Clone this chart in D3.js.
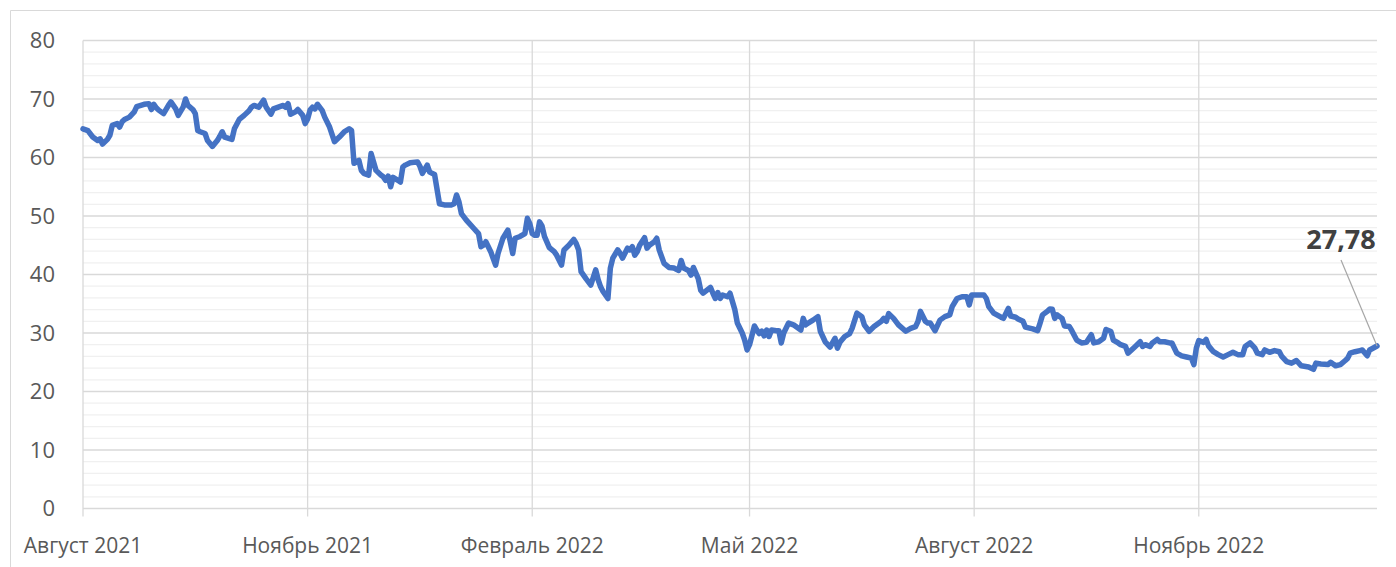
<!DOCTYPE html>
<html>
<head>
<meta charset="utf-8">
<script src="https://cdn.jsdelivr.net/npm/d3@7"></script>
<style>
  body { margin: 0; background: #fff; }
  #chart text { font-family: "Segoe UI", "Open Sans", sans-serif; }
</style>
</head>
<body>
<div id="chart"></div>
<script>
// daily quotes
var dates = [
  "2021-08-01","2021-08-03","2021-08-05","2021-08-07","2021-08-08","2021-08-09","2021-08-11","2021-08-12","2021-08-13","2021-08-15",
  "2021-08-16","2021-08-17","2021-08-18","2021-08-20","2021-08-22","2021-08-23","2021-08-26","2021-08-28","2021-08-29","2021-08-30",
  "2021-08-31","2021-09-01","2021-09-03","2021-09-05","2021-09-06","2021-09-08","2021-09-09","2021-09-11","2021-09-12","2021-09-13",
  "2021-09-15","2021-09-16","2021-09-17","2021-09-18","2021-09-20","2021-09-21","2021-09-23","2021-09-25","2021-09-26","2021-09-27",
  "2021-09-28","2021-10-01","2021-10-02","2021-10-04","2021-10-06","2021-10-08","2021-10-09","2021-10-10","2021-10-12","2021-10-14",
  "2021-10-15","2021-10-17","2021-10-18","2021-10-20","2021-10-22","2021-10-23","2021-10-24","2021-10-25","2021-10-27","2021-10-28",
  "2021-10-30","2021-10-31","2021-11-01","2021-11-02","2021-11-03","2021-11-04","2021-11-05","2021-11-07","2021-11-08","2021-11-10",
  "2021-11-12","2021-11-14","2021-11-16","2021-11-18","2021-11-19","2021-11-20","2021-11-22","2021-11-23","2021-11-24","2021-11-26",
  "2021-11-27","2021-11-29","2021-12-01","2021-12-02","2021-12-03","2021-12-04","2021-12-05","2021-12-06","2021-12-08","2021-12-09",
  "2021-12-10","2021-12-11","2021-12-13","2021-12-16","2021-12-17","2021-12-18","2021-12-20","2021-12-21","2021-12-23","2021-12-25",
  "2021-12-27","2021-12-30","2021-12-31","2022-01-01","2022-01-02","2022-01-03","2022-01-05","2022-01-08","2022-01-10","2022-01-11",
  "2022-01-12","2022-01-13","2022-01-15","2022-01-17","2022-01-18","2022-01-20","2022-01-22","2022-01-23","2022-01-24","2022-01-25",
  "2022-01-27","2022-01-29","2022-01-30","2022-01-31","2022-02-01","2022-02-02","2022-02-03","2022-02-04","2022-02-05","2022-02-06",
  "2022-02-08","2022-02-10","2022-02-11","2022-02-13","2022-02-14","2022-02-16","2022-02-18","2022-02-19","2022-02-20","2022-02-21",
  "2022-02-23","2022-02-25","2022-02-27","2022-02-28","2022-03-01","2022-03-02","2022-03-04","2022-03-05","2022-03-06","2022-03-08",
  "2022-03-09","2022-03-10","2022-03-12","2022-03-13","2022-03-14","2022-03-15","2022-03-16","2022-03-17","2022-03-19","2022-03-20",
  "2022-03-21","2022-03-23","2022-03-24","2022-03-25","2022-03-27","2022-03-29","2022-03-31","2022-04-02","2022-04-03","2022-04-04",
  "2022-04-06","2022-04-07","2022-04-08","2022-04-10","2022-04-11","2022-04-12","2022-04-15","2022-04-16","2022-04-17","2022-04-18",
  "2022-04-19","2022-04-20","2022-04-22","2022-04-23","2022-04-25","2022-04-26","2022-04-28","2022-04-29","2022-04-30","2022-05-01",
  "2022-05-03","2022-05-04","2022-05-05","2022-05-06","2022-05-07","2022-05-08","2022-05-09","2022-05-10","2022-05-12","2022-05-13",
  "2022-05-14","2022-05-15","2022-05-17","2022-05-19","2022-05-22","2022-05-23","2022-05-24","2022-05-25","2022-05-27","2022-05-29",
  "2022-05-30","2022-06-01","2022-06-03","2022-06-05","2022-06-06","2022-06-07","2022-06-09","2022-06-11","2022-06-12","2022-06-14",
  "2022-06-16","2022-06-17","2022-06-19","2022-06-21","2022-06-24","2022-06-25","2022-06-26","2022-06-27","2022-06-29","2022-07-01",
  "2022-07-04","2022-07-06","2022-07-08","2022-07-09","2022-07-10","2022-07-12","2022-07-13","2022-07-14","2022-07-16","2022-07-18",
  "2022-07-20","2022-07-22","2022-07-23","2022-07-25","2022-07-27","2022-07-29","2022-07-30","2022-07-31","2022-08-02","2022-08-05",
  "2022-08-06","2022-08-07","2022-08-09","2022-08-12","2022-08-13","2022-08-15","2022-08-16","2022-08-18","2022-08-19","2022-08-21",
  "2022-08-22","2022-08-25","2022-08-27","2022-08-28","2022-08-29","2022-08-31","2022-09-01","2022-09-02","2022-09-03","2022-09-04",
  "2022-09-06","2022-09-07","2022-09-09","2022-09-10","2022-09-12","2022-09-14","2022-09-16","2022-09-18","2022-09-19","2022-09-21",
  "2022-09-23","2022-09-24","2022-09-26","2022-09-27","2022-09-29","2022-09-30","2022-10-02","2022-10-03","2022-10-06","2022-10-08",
  "2022-10-09","2022-10-10","2022-10-12","2022-10-13","2022-10-15","2022-10-16","2022-10-18","2022-10-20","2022-10-21","2022-10-23",
  "2022-10-25","2022-10-27","2022-10-29","2022-10-30","2022-10-31","2022-11-01","2022-11-03","2022-11-04","2022-11-05","2022-11-07",
  "2022-11-09","2022-11-11","2022-11-13","2022-11-15","2022-11-17","2022-11-19","2022-11-20","2022-11-22","2022-11-24","2022-11-25",
  "2022-11-27","2022-11-28","2022-11-30","2022-12-02","2022-12-04","2022-12-05","2022-12-07","2022-12-09","2022-12-11","2022-12-13",
  "2022-12-16","2022-12-18","2022-12-19","2022-12-21","2022-12-24","2022-12-25","2022-12-27","2022-12-29","2022-12-31","2023-01-01",
  "2023-01-02","2023-01-04","2023-01-06","2023-01-07","2023-01-09","2023-01-10","2023-01-13"
];
var values = [
  64.9,64.6,63.5,62.9,63.2,62.3,63.1,63.8,65.5,65.8,
  65.2,66.1,66.5,66.9,67.8,68.7,69.1,69.2,68.2,69.1,
  68.5,68.1,67.5,68.9,69.5,68.3,67.2,68.6,70.0,68.9,
  68.2,67.5,64.6,64.4,64.1,62.9,61.9,62.9,63.6,64.4,
  63.5,63.1,64.9,66.5,67.2,68.0,68.6,68.9,68.6,69.8,
  68.6,67.4,68.3,68.6,68.9,68.6,69.2,67.4,67.8,68.2,
  67.2,65.8,66.6,68.1,68.6,68.3,69.1,68.0,66.9,65.2,
  62.7,63.5,64.4,64.9,64.6,59.0,59.5,57.8,57.3,57.0,
  60.7,57.8,57.0,56.7,56.1,56.8,55.0,56.6,56.1,55.8,
  58.4,58.7,59.1,59.25,58.5,57.3,58.7,57.5,57.1,52.1,
  51.9,51.9,52.1,53.6,52.4,50.4,49.3,47.9,47.0,44.75,
  45.0,45.6,43.9,41.6,43.6,46.2,47.6,45.6,43.6,46.2,
  46.5,47.0,49.6,48.7,47.0,46.7,46.7,49.0,48.3,46.5,
  44.6,43.9,43.3,41.6,44.2,45.0,46.0,45.3,44.2,40.5,
  39.3,38.2,40.8,39.1,37.9,37.1,35.9,41.1,42.8,44.2,
  43.6,42.8,44.5,44.2,44.75,43.3,43.9,45.0,46.3,44.5,
  45.0,45.6,46.2,44.2,41.9,41.2,41.1,40.7,42.4,41.1,
  40.7,39.9,41.2,39.3,37.3,36.8,37.8,36.8,35.9,36.9,
  35.9,36.5,36.2,36.8,33.95,31.7,30.0,28.8,27.1,28.0,
  31.2,30.5,29.9,30.3,29.5,30.5,29.4,30.5,30.4,30.4,
  28.3,30.0,31.7,31.4,30.5,32.5,31.4,31.7,32.2,32.8,
  30.3,28.5,27.6,29.1,27.4,28.4,29.4,29.9,30.8,33.4,
  32.8,31.4,30.3,31.1,32.0,32.5,32.0,33.3,32.5,31.4,
  30.3,30.8,31.1,32.0,33.7,32.0,31.7,31.7,30.4,32.2,
  32.8,33.1,34.5,35.9,36.2,36.2,34.8,36.5,36.5,36.5,
  35.9,34.5,33.4,32.7,32.5,34.2,32.9,32.7,32.4,32.0,
  31.0,30.7,30.4,31.7,33.1,33.7,34.1,34.05,32.5,33.1,
  32.5,31.2,31.1,30.4,28.8,28.3,28.4,29.7,28.3,28.5,
  29.1,30.6,30.25,28.8,28.3,28.0,27.7,26.55,27.7,28.5,
  27.7,28.0,27.7,28.3,28.9,28.5,28.5,28.3,28.3,26.55,
  26.1,25.9,25.7,24.6,27.4,28.7,28.4,28.9,27.8,26.8,
  26.3,25.9,26.3,26.7,26.3,26.3,27.7,28.3,27.4,26.55,
  26.3,27.1,26.7,27.0,26.8,26.0,25.1,24.85,25.3,24.4,
  24.2,23.8,24.85,24.7,24.6,25.0,24.4,24.6,25.3,25.7,
  26.55,26.8,27.0,27.1,26.1,27.1,27.78
];
var yTicks = [0, 10, 20, 30, 40, 50, 60, 70, 80];
var xTickDates = ["2021-08-01","2021-11-01","2022-02-01","2022-05-01","2022-08-01","2022-11-01"];
var xTickLabels = ["Август 2021","Ноябрь 2021","Февраль 2022","Май 2022","Август 2022","Ноябрь 2022"];
var lastLabel = "27,78";

var W = 1396, H = 567;
var margin = { top: 40.5, right: 19, bottom: 58.5, left: 83 };
var width = W - margin.left - margin.right,
    height = H - margin.top - margin.bottom;

var parse = d3.timeParse("%Y-%m-%d");
var data = dates.map(function (d, i) { return { date: parse(d), value: values[i] }; });

var svg = d3.select("#chart").append("svg")
    .attr("width", W)
    .attr("height", H);

// light chart frame
svg.append("path")
    .attr("d", "M10.5," + H + "V10.5H" + W)
    .attr("fill", "none")
    .attr("stroke", "#d9d9d9")
    .attr("stroke-width", 1);

var g = svg.append("g")
    .attr("transform", "translate(" + margin.left + "," + margin.top + ")");

var x = d3.scaleTime()
    .domain([parse("2021-08-01"), parse("2023-01-13")])
    .range([0, width]);

var y = d3.scaleLinear()
    .domain([0, 80])
    .range([height, 0]);

// minor gridlines every 2
g.selectAll(".minor")
    .data(d3.range(2, 80, 2).filter(function (v) { return v % 10 != 0; }))
    .join("line")
    .attr("class", "minor")
    .attr("x1", 0).attr("x2", width)
    .attr("y1", function (d) { return y(d); })
    .attr("y2", function (d) { return y(d); })
    .attr("stroke", "#f0f0f0")
    .attr("stroke-width", 1.3);

// major gridlines
g.selectAll(".major")
    .data(yTicks)
    .join("line")
    .attr("class", "major")
    .attr("x1", 0).attr("x2", width)
    .attr("y1", function (d) { return y(d); })
    .attr("y2", function (d) { return y(d); })
    .attr("stroke", "#d9d9d9")
    .attr("stroke-width", 1.3);

// vertical gridlines at the quarter ticks, running a bit below the axis
g.selectAll(".vgrid")
    .data(xTickDates)
    .join("line")
    .attr("class", "vgrid")
    .attr("x1", function (d) { return x(parse(d)); })
    .attr("x2", function (d) { return x(parse(d)); })
    .attr("y1", 0)
    .attr("y2", height + 8)
    .attr("stroke", "#d9d9d9")
    .attr("stroke-width", 1.3);

// y labels
g.selectAll(".ylab")
    .data(yTicks)
    .join("text")
    .attr("class", "ylab")
    .attr("x", -28)
    .attr("y", function (d) { return y(d); })
    .attr("dy", "0.35em")
    .attr("text-anchor", "end")
    .style("fill", "#595959")
    .style("font-size", "22px")
    .text(function (d) { return d; });

// x labels
g.selectAll(".xlab")
    .data(xTickDates)
    .join("text")
    .attr("class", "xlab")
    .attr("x", function (d) { return x(parse(d)); })
    .attr("y", height + 44)
    .attr("text-anchor", "middle")
    .style("fill", "#595959")
    .style("font-size", "21px")
    .text(function (d, i) { return xTickLabels[i]; });

var line = d3.line()
    .x(function (d) { return x(d.date); })
    .y(function (d) { return y(d.value); });

g.append("path")
    .datum(data)
    .attr("fill", "none")
    .attr("stroke", "#4472c4")
    .attr("stroke-width", 5.5)
    .attr("stroke-linejoin", "round")
    .attr("stroke-linecap", "round")
    .attr("d", line);

// callout for the last value
var last = data[data.length - 1];
var lx = x(last.date), ly = y(last.value);
g.append("line")
    .attr("x1", lx - 36).attr("y1", ly - 86)
    .attr("x2", lx).attr("y2", ly)
    .attr("stroke", "#a6a6a6")
    .attr("stroke-width", 1.2);

g.append("text")
    .attr("x", lx - 36)
    .attr("y", ly - 97)
    .attr("text-anchor", "middle")
    .style("fill", "#404040")
    .style("font-size", "27px")
    .style("font-weight", "bold")
    .text(lastLabel);
</script>
</body>
</html>
